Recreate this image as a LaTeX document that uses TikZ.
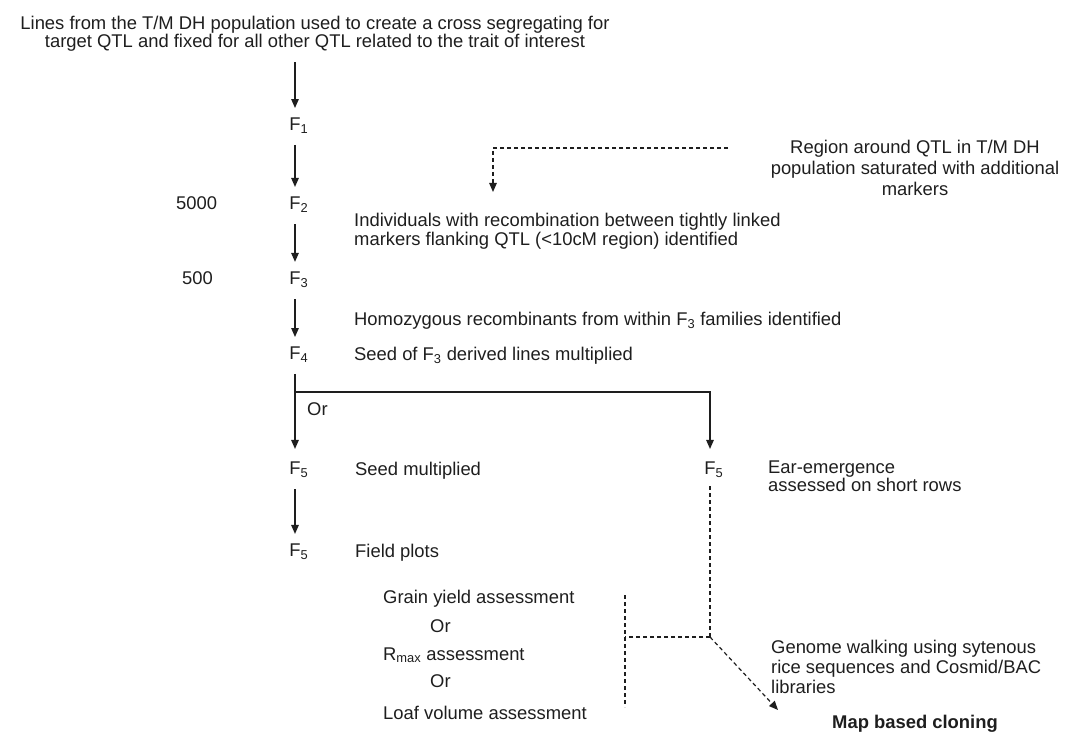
\documentclass[tikz,border=0pt]{standalone}
\usepackage{fontspec}
\setmainfont{Liberation Sans}
\usetikzlibrary{arrows.meta}
\definecolor{ink}{HTML}{1E1E1E}

\begin{document}
\begin{tikzpicture}[x=1pt, y=-1pt,
  txt/.style={inner sep=0pt, text=ink, font=\fontsize{18.4}{19}\selectfont},
  gen/.style={txt},
  flow/.style={-{Triangle[length=9pt,width=7.5pt]}, line width=1.3pt, draw=ink,
               shorten <=11pt, shorten >=10pt},
  dashline/.style={dash pattern=on 4pt off 3pt, line width=1.2pt, draw=ink},
  dashflow/.style={dashline, -{Triangle[length=9pt,width=7.5pt]}}]
  \useasboundingbox (0,0) rectangle (1069,738);
  % starting cross
  \node[txt, anchor=north, align=center, font=\fontsize{18.4}{18}\selectfont] (cross) at (315,15.6)
    {Lines from the T/M DH population used to create a cross segregating for\\
     target QTL and fixed for all other QTL related to the trait of interest};
  % generations down the main line
  \node[gen] (f1) at (295,126) {F\rlap{\textsubscript{1}}};
  \node[gen] (f2) at (295,205) {F\rlap{\textsubscript{2}}};
  \node[gen] (f3) at (295,280) {F\rlap{\textsubscript{3}}};
  \node[gen] (f4) at (295,355) {F\rlap{\textsubscript{4}}};
  \node[gen] (f5a) at (295,470) {F\rlap{\textsubscript{5}}};
  \node[gen] (f5c) at (295,552) {F\rlap{\textsubscript{5}}};
  \node[gen] (f5b) at (710,470) {F\rlap{\textsubscript{5}}};
  % population sizes
  \node[txt, anchor=base west] (n5000) at (176,210) {5000};
  \node[txt, anchor=base west] (n500) at (182,285) {500};
  % steps
  \node[txt, anchor=north west, align=left] (recomb) at (354,212.6)
    {Individuals with recombination between tightly linked\\
     markers flanking QTL (<10cM region) identified};
  \node[txt, anchor=base west] (homoz) at (354,325)
    {Homozygous recombinants from within F\textsubscript{3} families identified};
  \node[txt, anchor=base west] (seedf3) at (354,360)
    {Seed of F\textsubscript{3} derived lines multiplied};
  \node[txt, anchor=base west] (orsplit) at (307,415) {Or};
  \node[txt, anchor=base west] (seedmult) at (355,475) {Seed multiplied};
  \node[txt, anchor=base west] (field) at (355,557) {Field plots};
  \node[txt, anchor=north west, align=left, font=\fontsize{18.4}{17}\selectfont] (ear) at (768,460.6)
    {Ear-emergence\\assessed on short rows};
  \node[txt, anchor=north, align=center, font=\fontsize{18.4}{21}\selectfont] (region) at (915,139.6)
    {Region around QTL in T/M DH\\population saturated with additional\\markers};
  % assessments
  \node[txt, anchor=base west] (grain) at (383,603) {Grain yield assessment};
  \node[txt, anchor=base west] (ora) at (430,632) {Or};
  \node[txt, anchor=base west] (rmax) at (383,660) {R\textsubscript{max} assessment};
  \node[txt, anchor=base west] (orb) at (430,687) {Or};
  \node[txt, anchor=base west] (loaf) at (383,719) {Loaf volume assessment};
  \node[txt, anchor=north west, align=left, font=\fontsize{18.4}{20}\selectfont] (genome) at (771,639.6)
    {Genome walking using sytenous\\rice sequences and Cosmid/BAC\\libraries};
  \node[txt, anchor=base, font=\fontsize{18.4}{19}\selectfont\bfseries] (mapclone) at (915,728)
    {Map based cloning};
  % solid arrows
  \draw[flow] (cross.south -| f1) -- (f1);
  \draw[flow] (f1) -- (f2);
  \draw[flow] (f2) -- (f3);
  \draw[flow] (f3) -- (f4);
  \draw[flow, shorten >=13pt] (f4) -- (f5a);
  \coordinate (split) at (f4 |- 0,392);
  \draw[flow, shorten <=0pt, shorten >=13pt] (split) -| (f5b);
  \draw[flow] (f5a) -- (f5c);
  % dashed links
  \coordinate (satstart) at (728,148);
  \coordinate (sattip) at (493,192);
  \draw[dashflow] (satstart) -| (sattip);
  \coordinate (join) at (710,637);
  \coordinate (bartop) at (625,595);
  \coordinate (barbot) at (625,707);
  \coordinate (cloneend) at (778,710);
  \draw[dashline, shorten <=8pt] (f5b) -- (join);
  \draw[dashline] (bartop) -- (barbot);
  \draw[dashline] (join) -- (join -| bartop);
  \draw[dashflow] (join) -- (cloneend);
\end{tikzpicture}
\end{document}
